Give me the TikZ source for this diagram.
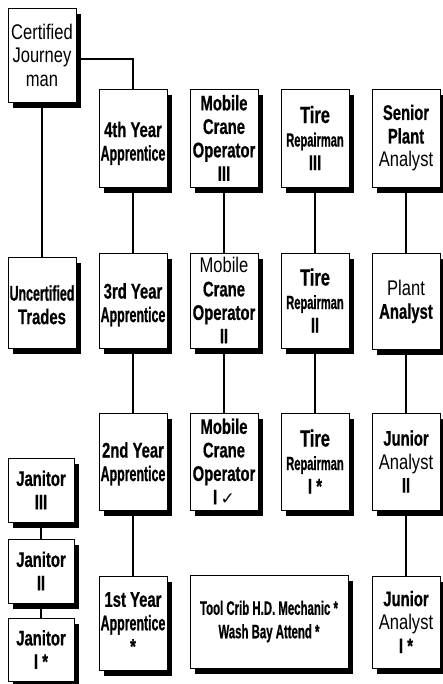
\documentclass[tikz,border=0pt]{standalone}
\usepackage{fontspec}
\setmainfont{Liberation Sans}
\newfontfamily\bdf{Liberation Sans}[FakeStretch=0.7, FakeBold=0.6]
\newfontfamily\nbf{Liberation Sans}[FakeStretch=0.585, FakeBold=0.6]
\newfontfamily\rgf{Liberation Sans}[FakeStretch=0.78]
\newfontfamily\symf{DejaVu Sans}
\newcommand\NB{\nbf\bfseries}
\newcommand\RG{\rgf\mdseries}
\usetikzlibrary{shadows}
\begin{document}
\begin{tikzpicture}[x=1pt,y=1pt,
  box/.style={draw=black, line width=0.8pt, fill=white, minimum width=68pt,
    inner sep=0pt, align=center,
    drop shadow={fill=black, opacity=1, shadow xshift=5pt, shadow yshift=-6pt},
    font=\fontsize{21.2}{23.5}\selectfont\bdf\bfseries},
  link/.style={line width=1.8pt}]
\useasboundingbox (0,0) rectangle (443,684);
\fill[white] (0,0) rectangle (443,684);

% column 0
\node[box, minimum height=94pt] (cert) at (42,629) {\RG Certified\\\RG Journey\\\RG man};
\node[box, minimum height=91pt] (unc) at (42,381.5) {\rule{0pt}{20pt}\NB Uncertified\\Trades};
\node[box, minimum width=66pt, minimum height=64pt] (j3) at (41,194) {Janitor\\III};
\node[box, minimum width=66pt, minimum height=64pt] (j2) at (41,113) {Janitor\\II};
\node[box, minimum width=66pt, minimum height=63pt] (j1) at (41,34.5) {Janitor\\I *};

% column 1
\node[box, minimum height=98pt] (y4) at (133,546) {\rule{0pt}{26pt}4th Year\\\NB Apprentice};
\node[box, minimum height=95pt] (y3) at (133,383.5) {\rule{0pt}{24pt}3rd Year\\\NB Apprentice};
\node[box, minimum height=97pt] (y2) at (133,222.5) {\rule{0pt}{20pt}2nd Year\\\NB Apprentice};
\node[box, minimum height=94pt] (y1) at (133,61) {1st Year\\\NB Apprentice\\*};

% column 2
\node[box, minimum height=98pt] (m3) at (224,546) {Mobile\\Crane\\Operator\\III};
\node[box, minimum height=95pt] (m2) at (224,383.5) {\RG Mobile\\Crane\\Operator\\II};
\node[box, minimum height=97pt] (m1) at (224,222.5) {Mobile\\Crane\\Operator\\I\,{\symf\mdseries\fontsize{17}{20}\selectfont ✓}};
\node[box, minimum width=158pt, minimum height=93pt] (tc) at (269,62.5)
  {\NB\fontsize{19.5}{21}\selectfont Tool Crib H.D. Mechanic *\\\NB\fontsize{19.5}{21}\selectfont Wash Bay Attend *};

% column 3
\node[box, minimum height=98pt] (t3) at (315,546)
  {{\fontsize{23.5}{25}\selectfont Tire}\\{\NB\fontsize{19}{22}\selectfont Repairman}\\III};
\node[box, minimum height=95pt] (t2) at (315,383.5)
  {{\fontsize{23.5}{25}\selectfont Tire}\\{\NB\fontsize{19}{22}\selectfont Repairman}\\II};
\node[box, minimum height=97pt] (t1) at (315,222.5)
  {{\fontsize{23.5}{25}\selectfont Tire}\\{\NB\fontsize{19}{22}\selectfont Repairman}\\I *};

% column 4
\node[box, minimum height=98pt] (s) at (406,546) {Senior\\Plant\\\RG Analyst};
\node[box, minimum height=96pt] (pa) at (406,382.5) {\RG Plant\\Analyst};
\node[box, minimum height=97pt] (ja2) at (406,222.5) {Junior\\\RG Analyst\\II};
\node[box, minimum height=92pt] (ja1) at (406,62) {Junior\\\RG Analyst\\I *};

% connectors
\draw[link] ([yshift=-4pt]cert.east) -| (y4.north);
\draw[link] (cert.south) -- (unc.north);
\draw[link] (j3.south) -- (j2.north);
\draw[link] (j2.south) -- (j1.north);
\draw[link] (y4.south) -- (y3.north);
\draw[link] (y3.south) -- (y2.north);
\draw[link] (y2.south) -- (y1.north);
\draw[link] (m3.south) -- (m2.north);
\draw[link] (m2.south) -- (m1.north);
\draw[link] (t3.south) -- (t2.north);
\draw[link] (t2.south) -- (t1.north);
\draw[link] (s.south) -- (pa.north);
\draw[link] (pa.south) -- (ja2.north);
\draw[link] (ja2.south) -- (ja1.north);
\end{tikzpicture}
\end{document}
